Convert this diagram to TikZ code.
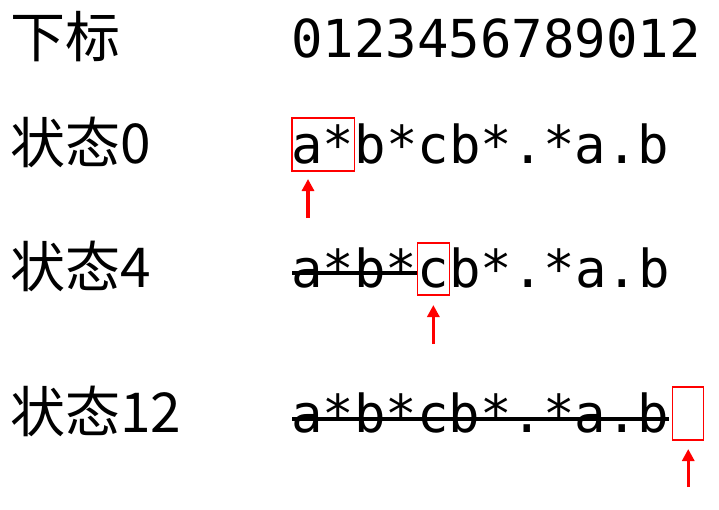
\documentclass[tikz,border=0pt]{standalone}
\usepackage{fontspec}
\setmonofont{DejaVu Sans Mono}
\newfontfamily\cjk{Noto Sans CJK SC}
\usetikzlibrary{arrows.meta,calc}
\tikzset{
  lbl/.style={anchor=base west,inner sep=0pt,font=\cjk\fontsize{55}{60}\selectfont},
  code/.style={anchor=base west,inner sep=0pt,font=\ttfamily\fontsize{52.3}{60}\selectfont},
  hl/.style={draw=red,line width=1.2pt},
  strike/.style={line width=3.2pt},
  ptr/.style={red,line width=3.4pt,-{Triangle[width=12pt,length=12pt]}}
}
\begin{document}
\begin{tikzpicture}[x=1pt,y=-1pt]
\useasboundingbox (0,0) rectangle (719,509);
% labels
\node[lbl] (l0) at (10,57) {下标};
\node[lbl] (l1) at (10,163) {状态0};
\node[lbl] (l2) at (10,287) {状态4};
\node[lbl] (l3) at (10,432) {状态12};
% index row
\node[code] (idx) at (291,57) {0123456789012};
% state 0
\node[code] (r1a) at (291,163) {a*};
\node[code] (r1b) at (r1a.base east) {b*cb*.*a.b};
\draw[hl] ($(r1a.base west)+(1,8)$) rectangle ($(r1a.base east)+(0,-45)$);
\coordinate (p1t) at ($(r1a.base west)+(17,16)$);
\coordinate (p1b) at ($(r1a.base west)+(17,55)$);
\draw[ptr] (p1b) -- (p1t);
% state 4
\node[code] (r2a) at (291,287) {a*b*};
\node[code] (r2b) at (r2a.base east) {c};
\node[code] (r2c) at (r2b.base east) {b*.*a.b};
\draw[strike] ($(r2a.base west)+(1,-14)$) -- ($(r2a.base east)+(0,-14)$);
\draw[hl] ($(r2b.base west)+(0,8)$) rectangle ($(r2b.base east)+(0,-44)$);
\coordinate (p2t) at ($(r2b.base west)+(16,18)$);
\coordinate (p2b) at ($(r2b.base west)+(16,57)$);
\draw[ptr] (p2b) -- (p2t);
% state 12
\node[code] (r3a) at (291,432) {a*b*cb*.*a.b};
\draw[strike] ($(r3a.base west)+(1,-13)$) -- ($(r3a.base east)+(0,-13)$);
\node[code,minimum width=31.5pt] (r3e) at ($(r3a.base east)+(3,0)$) {\strut};
\draw[hl] ($(r3e.base west)+(0,8)$) rectangle ($(r3e.base west)+(31.5,-45)$);
\coordinate (p3t) at ($(r3e.base west)+(16,17)$);
\coordinate (p3b) at ($(r3e.base west)+(16,55)$);
\draw[ptr] (p3b) -- (p3t);
\end{tikzpicture}
\end{document}
